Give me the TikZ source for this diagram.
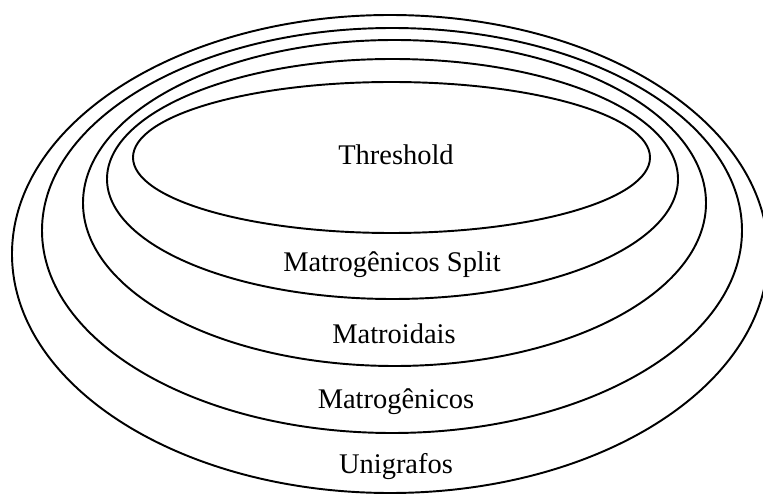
\documentclass[tikz,border=0pt]{standalone}
\usepackage{fontspec}
\setmainfont{Liberation Serif}
\usepackage{tikz}

\begin{document}
\begin{tikzpicture}[x=0.02cm, y=-0.02cm]
        % ================= styles =================
        \tikzset{
            ring/.style={line width=1.1pt, black},
            classlabel/.style={anchor=base, inner sep=0pt, font=\fontsize{16.2}{19}\selectfont}
        }

        % picture frame (same size as the reference)
        \useasboundingbox (0,0) rectangle (763,496);
        \clip (0,0) rectangle (763,496);

        % ================= nested classes (outer to inner) =================
        \foreach \cx/\cy/\rx/\ry in {390/254/378/239, 392/230.5/350/202.5, 394.5/203/311.5/163,
                                     392.5/179/285.5/120, 391.5/157.5/258.5/75.5} {
            \draw[ring] (\cx,\cy) ellipse ({\rx} and {\ry});
        }

        % ================= labels =================
        \node[classlabel] (thr)   at (396,165) {Threshold};
        \node[classlabel] (split) at (392,272) {Matrogênicos Split};
        \node[classlabel] (matr)  at (394,343) {Matroidais};
        \node[classlabel] (matg)  at (396,408) {Matrogênicos};
        \node[classlabel] (uni)   at (396,473) {Unigrafos};

    \end{tikzpicture}
\end{document}
